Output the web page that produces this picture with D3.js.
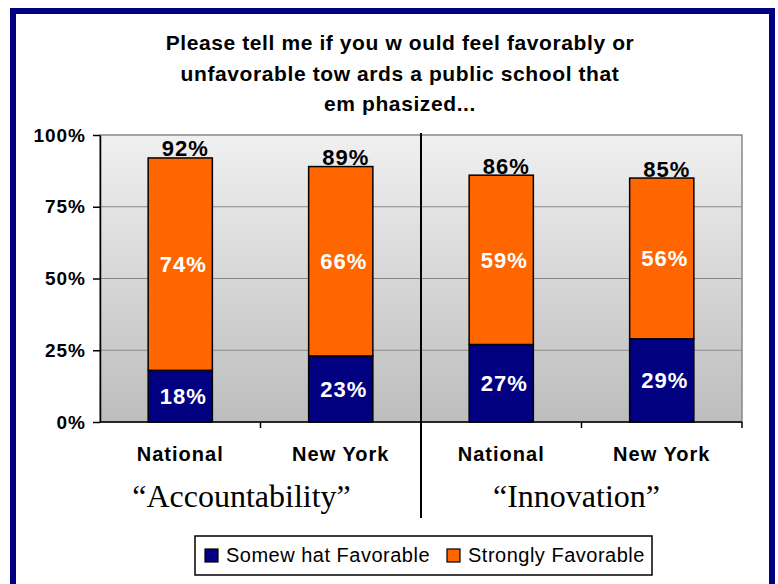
<!DOCTYPE html>
<html>
<head>
<meta charset="utf-8">
<script src="https://cdn.jsdelivr.net/npm/d3@7"></script>
<style>
	body { margin: 0; background: #fff; }
	svg { display: block; font-family: 'Liberation Sans', Arial, sans-serif; }
	.title { font-size: 21px; font-weight: bold; letter-spacing: 0.6px; text-anchor: middle; }
	.axis text { font-size: 19px; font-weight: bold; letter-spacing: 1px; fill: #000; }
	.axis path, .axis line { stroke: #000; }
	.cat-label { font-size: 20px; font-weight: bold; letter-spacing: 1px; text-anchor: middle; }
	.group-label { font-family: 'Liberation Serif', 'Times New Roman', serif; font-size: 32px; text-anchor: middle; }
	.total-label { font-size: 22px; font-weight: bold; letter-spacing: 1px; text-anchor: middle; }
	.inner-label { font-size: 22px; font-weight: bold; letter-spacing: 1px; text-anchor: middle; fill: #fff; }
	.legend-text { font-size: 20px; letter-spacing: 0.5px; }
</style>
</head>
<body>
<svg width="778" height="584"></svg>
<script>
//Data.
var categories = ['National', 'New York', 'National', 'New York'];
var somewhat = [0.18, 0.23, 0.27, 0.29];
var strongly = [0.74, 0.66, 0.59, 0.56];
var totals = [0.92, 0.89, 0.86, 0.85];
var groups = ['\u201CAccountability\u201D', '\u201CInnovation\u201D'];
var yTicks = [0, 0.25, 0.5, 0.75, 1];
var seriesNames = ['Somew hat Favorable', 'Strongly Favorable'];
var titleLines = ['Please tell me if you w ould feel favorably or',
	'unfavorable tow ards a public school that',
	'em phasized...'];

var somewhatColor = '#000080', stronglyColor = '#ff6600';

var svg = d3.select('svg'),
	width = +svg.attr('width'), height = +svg.attr('height');

//Navy frame round the whole slide, its bottom runs off the page.
svg.append('rect')
	.attr('x', 13).attr('y', 11)
	.attr('width', 759).attr('height', 620)
	.style('fill', '#fff')
	.style('stroke', '#000080')
	.style('stroke-width', 6);

//Title.
svg.append('g').selectAll('text')
	.data(titleLines)
	.enter().append('text')
	.attr('class', 'title')
	.attr('x', 400)
	.attr('y', function(d, i) { return 50 + i * 30.5; })
	.text(function(d) { return d; });

//Plot area.
var plot = {left: 100, right: 742, top: 135, bottom: 422};

var x = d3.scaleBand()
	.domain(d3.range(categories.length))
	.range([plot.left, plot.right])
	.paddingInner(0.6)
	.paddingOuter(0.3);
var xOuter = d3.scaleBand()
	.domain(d3.range(categories.length))
	.range([plot.left, plot.right]);
var xGroup = d3.scaleBand()
	.domain(d3.range(groups.length))
	.range([plot.left, plot.right]);
var y = d3.scaleLinear()
	.domain([0, 1])
	.range([plot.bottom, plot.top]);

//Grey gradient behind the bars.
var grad = svg.append('defs').append('linearGradient')
	.attr('id', 'bg')
	.attr('x1', 0).attr('y1', 0).attr('x2', 0).attr('y2', 1);
grad.append('stop').attr('offset', '0%').attr('stop-color', '#f0f0f0');
grad.append('stop').attr('offset', '100%').attr('stop-color', '#bdbdbd');

svg.append('rect')
	.attr('x', plot.left).attr('y', plot.top)
	.attr('width', plot.right - plot.left)
	.attr('height', plot.bottom - plot.top)
	.style('fill', 'url(#bg)')
	.style('stroke', '#888')
	.style('stroke-width', 1.5);

//Gridlines.
svg.append('g').selectAll('line')
	.data(yTicks.slice(1, -1))
	.enter().append('line')
	.attr('x1', plot.left).attr('x2', plot.right)
	.attr('y1', function(d) { return y(d); })
	.attr('y2', function(d) { return y(d); })
	.style('stroke', '#888')
	.style('stroke-width', 1.2);

//Bars: somewhat on the bottom, strongly stacked on top.
var bars = svg.append('g');
bars.selectAll('rect.somewhat')
	.data(somewhat)
	.enter().append('rect')
	.attr('class', 'somewhat')
	.attr('x', function(d, i) { return x(i); })
	.attr('width', x.bandwidth())
	.attr('y', function(d) { return y(d); })
	.attr('height', function(d) { return y(0) - y(d); })
	.style('fill', somewhatColor)
	.style('stroke', '#000')
	.style('stroke-width', 1.5);
bars.selectAll('rect.strongly')
	.data(strongly)
	.enter().append('rect')
	.attr('class', 'strongly')
	.attr('x', function(d, i) { return x(i); })
	.attr('width', x.bandwidth())
	.attr('y', function(d, i) { return y(somewhat[i] + d); })
	.attr('height', function(d) { return y(0) - y(d); })
	.style('fill', stronglyColor)
	.style('stroke', '#000')
	.style('stroke-width', 1.5);

//Labels inside and above the bars.
var fmt = d3.format('.0%');
bars.selectAll('text.s1')
	.data(somewhat)
	.enter().append('text')
	.attr('class', 'inner-label')
	.attr('x', function(d, i) { return x(i) + x.bandwidth() / 2 + 3; })
	.attr('y', function(d) { return y(d / 2); })
	.attr('dy', '0.36em')
	.text(fmt);
bars.selectAll('text.s2')
	.data(strongly)
	.enter().append('text')
	.attr('class', 'inner-label')
	.attr('x', function(d, i) { return x(i) + x.bandwidth() / 2 + 3; })
	.attr('y', function(d, i) { return y(somewhat[i] + d / 2); })
	.attr('dy', '0.36em')
	.text(fmt);
bars.selectAll('text.tot')
	.data(totals)
	.enter().append('text')
	.attr('class', 'total-label')
	.attr('x', function(d, i) { return x(i) + x.bandwidth() / 2 + 5; })
	.attr('y', function(d) { return y(d) - 1.5; })
	.text(fmt);

//Y axis.
svg.append('g')
	.attr('class', 'axis')
	.attr('transform', 'translate(' + plot.left + ',0)')
	.call(d3.axisLeft(y).tickValues(yTicks).tickFormat(fmt).tickSize(7).tickPadding(7).tickSizeOuter(0))
	.selectAll('path, line').style('stroke-width', 1.5);

//X axis: baseline and ticks at the category boundaries.
var xAxis = svg.append('g');
xAxis.append('line')
	.attr('x1', plot.left).attr('x2', plot.right)
	.attr('y1', plot.bottom).attr('y2', plot.bottom)
	.style('stroke', '#000').style('stroke-width', 1.5);
xAxis.selectAll('line.tick')
	.data(d3.range(categories.length))
	.enter().append('line')
	.attr('x1', function(d) { return xOuter(d) + xOuter.bandwidth(); })
	.attr('x2', function(d) { return xOuter(d) + xOuter.bandwidth(); })
	.attr('y1', plot.bottom).attr('y2', plot.bottom + 6)
	.style('stroke', '#000').style('stroke-width', 1.5);
xAxis.selectAll('text')
	.data(categories)
	.enter().append('text')
	.attr('class', 'cat-label')
	.attr('x', function(d, i) { return xOuter(i) + xOuter.bandwidth() / 2; })
	.attr('y', 461)
	.text(function(d) { return d; });

//Divider between the two groups.
svg.append('line')
	.attr('x1', xGroup(1)).attr('x2', xGroup(1))
	.attr('y1', plot.top - 2).attr('y2', 518)
	.style('stroke', '#000').style('stroke-width', 2);

//Group names.
var groupShift = [-19, -5];
svg.append('g').selectAll('text')
	.data(groups)
	.enter().append('text')
	.attr('class', 'group-label')
	.attr('x', function(d, i) { return xGroup(i) + xGroup.bandwidth() / 2 + groupShift[i]; })
	.attr('y', 507)
	.text(function(d) { return d; });

//Legend.
var legend = svg.append('g');
legend.append('rect')
	.attr('x', 195).attr('y', 536)
	.attr('width', 457).attr('height', 39)
	.style('fill', '#fff')
	.style('stroke', '#000')
	.style('stroke-width', 1.5);
var legendX = [205, 447];
var legendColors = [somewhatColor, stronglyColor];
seriesNames.forEach(function(name, i) {
	legend.append('rect')
		.attr('x', legendX[i]).attr('y', 549)
		.attr('width', 13).attr('height', 13)
		.style('fill', legendColors[i])
		.style('stroke', '#000')
		.style('stroke-width', 1.2);
	legend.append('text')
		.attr('class', 'legend-text')
		.attr('x', legendX[i] + 21)
		.attr('y', 562)
		.text(name);
});
</script>
</body>
</html>
